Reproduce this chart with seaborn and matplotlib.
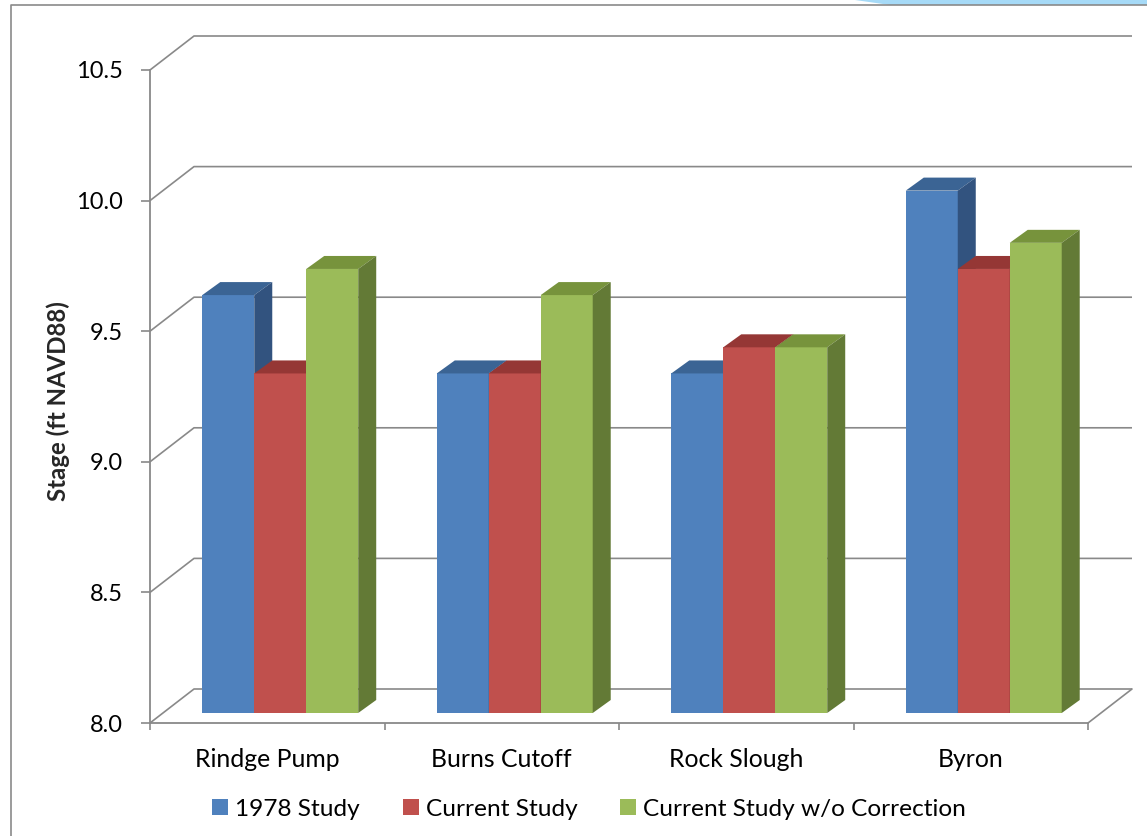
import numpy as np
import pandas as pd
import matplotlib
matplotlib.use("Agg")
import matplotlib.pyplot as plt
from matplotlib.patches import Polygon
from matplotlib.lines import Line2D
import seaborn as sns

# ---- data -------------------------------------------------------------
stations = ["Rindge Pump", "Burns Cutoff", "Rock Slough", "Byron"]
studies = ["1978 Study", "Current Study", "Current Study w/o Correction"]
stage_1978 = [9.6, 9.3, 9.3, 10.0]
stage_current = [9.3, 9.3, 9.4, 9.7]
stage_uncorrected = [9.7, 9.6, 9.4, 9.8]
y_ticks = [8.0, 8.5, 9.0, 9.5, 10.0, 10.5]
y_label = "Stage (ft NAVD88)"

# ---- style --------------------------------------------------------------
front_colors = ["#4F81BD", "#C0504D", "#9BBB59"]
top_colors = ["#3B6494", "#953735", "#77933C"]
side_colors = ["#32537F", "#7F2E2C", "#637A36"]
GRID = "#898989"
FS_TICK = 17
FS_CAT = 17.8
FS_LEG = 17.6
FS_LABEL = 17.3

W, H, DPI = 1147, 836, 100

sns.set_theme(style="white")
plt.rcParams["font.family"] = ["Lato", "DejaVu Sans"]
plt.rcParams["text.color"] = "black"
plt.rcParams["xtick.color"] = GRID
plt.rcParams["ytick.color"] = GRID
plt.rcParams["xtick.labelcolor"] = "black"
plt.rcParams["ytick.labelcolor"] = "black"

df = pd.DataFrame({
    "station": stations * len(studies),
    "study": np.repeat(studies, len(stations)),
    "stage": stage_1978 + stage_current + stage_uncorrected,
})

fig = plt.figure(figsize=(W / DPI, H / DPI), dpi=DPI)


def px_rect(left, top, right, bottom):
    """Pixel box (origin top-left) -> figure-fraction rect."""
    return [left / W, 1 - bottom / H, (right - left) / W, (bottom - top) / H]


# front plane of the 3-D box, and pixel offsets for the pseudo depth
AX_L, AX_R, AX_T, AX_B = 150, 1088, 70, 723
BACK = (44, 34)       # back wall, right / up
BAR_SHIFT = (13, 10)  # bar front faces sit a little behind the front edge
DEPTH = (18, 13)      # bar thickness

xlim = (-0.5, len(stations) - 0.5)
ylim = (y_ticks[0], y_ticks[-1])

ax = fig.add_axes(px_rect(AX_L, AX_T, AX_R, AX_B))
ax_b = fig.add_axes(px_rect(AX_L + BAR_SHIFT[0], AX_T - BAR_SHIFT[1],
                            AX_R + BAR_SHIFT[0], AX_B - BAR_SHIFT[1]))

px_x = (AX_R - AX_L) / (xlim[1] - xlim[0])
px_y = (AX_B - AX_T) / (ylim[1] - ylim[0])

# ---- walls and gridlines --------------------------------------------------
ax.set_xlim(xlim)
ax.set_ylim(ylim)
bx, by = BACK[0] / px_x, BACK[1] / px_y
for y in y_ticks:
    ax.plot([xlim[0], xlim[0] + bx, xlim[1] + bx], [y, y + by, y + by],
            color=GRID, lw=1.2, clip_on=False, zorder=1,
            solid_capstyle="butt")
ax.plot([xlim[1], xlim[1] + bx], [ylim[0], ylim[0] + by],
        color=GRID, lw=1.2, clip_on=False, zorder=1)

for s in ["top", "right"]:
    ax.spines[s].set_visible(False)
for s in ["left", "bottom"]:
    ax.spines[s].set_color(GRID)
    ax.spines[s].set_linewidth(1.3)
ax.patch.set_alpha(0)

ax.set_yticks(y_ticks, [f"{v:.1f}" for v in y_ticks])
ax.tick_params(axis="y", length=6.5, width=1.2, pad=13, labelsize=FS_TICK,
               direction="out", left=True)
ax.set_xticks(range(len(stations)), stations)
ax.tick_params(axis="x", which="major", length=0, pad=18, labelsize=FS_CAT)
ax.set_xticks(np.arange(len(stations) + 1) - 0.5, minor=True)
ax.tick_params(axis="x", which="minor", length=5, width=1.2,
               direction="out", bottom=True)
ax.set_ylabel(y_label, fontsize=FS_LABEL, fontweight="bold")
ax.yaxis.set_label_coords(-0.085, 0.493)
ax.set_xlabel("")

# ---- bars ----------------------------------------------------------------
sns.barplot(data=df, x="station", y="stage", hue="study", order=stations,
            hue_order=studies, palette=front_colors, saturation=1,
            width=0.665, linewidth=0, ax=ax_b)
ax_b.set_xlim(xlim)
ax_b.set_ylim(ylim)
ax_b.axis("off")

ddx, ddy = DEPTH[0] / px_x, DEPTH[1] / px_y
bars = []
for k, cont in enumerate(ax_b.containers):
    for p in cont.patches:
        bars.append((p.get_x(), k, p))
bars.sort(key=lambda t: t[0])
for rank, (_, k, p) in enumerate(bars):
    z = 2 + rank * 0.01
    x0 = p.get_x()
    x1 = x0 + p.get_width()
    top = p.get_y() + p.get_height()
    base = ylim[0]
    p.set_zorder(z)
    ax_b.add_patch(Polygon([(x0, top), (x1, top), (x1 + ddx, top + ddy),
                            (x0 + ddx, top + ddy)], closed=True,
                           facecolor=top_colors[k], edgecolor="none",
                           zorder=z, clip_on=False))
    ax_b.add_patch(Polygon([(x1, base), (x1, top), (x1 + ddx, top + ddy),
                            (x1 + ddx, base + ddy)], closed=True,
                           facecolor=side_colors[k], edgecolor="none",
                           zorder=z, clip_on=False))

# ---- legend --------------------------------------------------------------
sns.move_legend(ax_b, "center", bbox_to_anchor=(589 / W, 1 - 809 / H),
                bbox_transform=fig.transFigure, ncol=3, frameon=False,
                title=None, fontsize=FS_LEG, handlelength=0.66,
                handleheight=0.62, handletextpad=0.28, columnspacing=1.75)

# ---- outer frame ---------------------------------------------------------
fig.add_artist(Polygon([(855 / W, 1.0), (890 / W, 1 - 5 / H),
                        (1.0, 1 - 5 / H), (1.0, 1.0)], closed=True,
                       transform=fig.transFigure, facecolor="#A6DAF7",
                       edgecolor="none"))
fig.add_artist(Line2D([11 / W, 11 / W, 1.0], [0.0, 1 - 5 / H, 1 - 5 / H],
                      transform=fig.transFigure, color="#8A8A8A", lw=1.2))

fig.savefig("out.png", dpi=DPI)
